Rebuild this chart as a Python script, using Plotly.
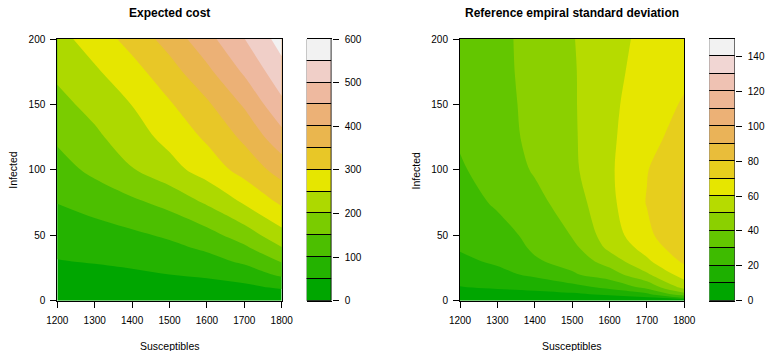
import colorsys
import plotly.graph_objects as go

# ---------------- data ----------------
susceptibles = [1200, 1300, 1400, 1500, 1600, 1700, 1800]

infected_cost = [0, 10, 20, 30, 40, 50, 75, 100, 125, 150, 175, 200]
expected_cost = [
    [3, 3, 3, 3, 3, 3, 3],
    [16, 18, 21, 25, 30, 38, 56],
    [32, 36, 42, 50, 58, 74, 109],
    [48, 53, 60, 69, 83, 108, 154],
    [60, 66, 76, 88, 107, 140, 196],
    [72, 80, 91, 107, 132, 174, 232],
    [101, 118, 140, 165, 206, 255, 308],
    [130, 162, 197, 232, 272, 318, 370],
    [158, 190, 228, 265, 308, 360, 433],
    [185, 216, 251, 295, 342, 406, 489],
    [210, 243, 282, 330, 388, 457, 532],
    [233, 273, 318, 370, 433, 499, 570],
]

infected_sd = [0, 2.5, 5, 10, 20, 30, 40, 50, 75, 100, 125, 150, 175, 200]
empirical_sd = [
    [0.3, 0.3, 0.3, 0.3, 0.3, 0.3, 0.3],
    [2.3, 3, 3.5, 4.3, 6, 9, 21.7],
    [5, 6, 7, 8.5, 11.7, 18, 36.7],
    [9.5, 11, 12.6, 16.1, 22.1, 32.2, 53],
    [14, 17.3, 21.9, 28.8, 35.1, 48.5, 64.6],
    [18, 21.4, 28.8, 33.3, 44.3, 58.2, 71.7],
    [20.7, 24, 31.4, 36.9, 52, 63.5, 77],
    [22, 26, 33, 40.5, 55, 67.5, 80],
    [25.5, 31.5, 37, 45, 57.5, 70.5, 80.8],
    [29, 34, 41, 48, 58.5, 69.5, 80],
    [31, 36, 42.5, 48.5, 58.5, 66, 75],
    [32, 36.5, 43, 48.8, 58, 65, 71],
    [33, 37, 43.5, 49, 57, 64, 68],
    [33, 37, 44, 49.5, 56, 63, 66],
]

cost_levels = [0, 50, 100, 150, 200, 250, 300, 350, 400, 450, 500, 550, 600]
cost_ticks = [0, 100, 200, 300, 400, 500, 600]
sd_levels = [0, 10, 20, 30, 40, 50, 60, 70, 80, 90, 100, 110, 120, 130, 140, 150]
sd_ticks = [0, 20, 40, 60, 80, 100, 120, 140]
x_ticks = [1200, 1300, 1400, 1500, 1600, 1700, 1800]
y_ticks = [0, 50, 100, 150, 200]


# ---------------- palette (R terrain.colors) ----------------
def terrain(n):
    k = n // 2
    def seq(a, b, m):
        return [a + (b - a) * i / (m - 1) for i in range(m)] if m > 1 else [a]
    h1, s1, v1 = seq(4 / 12, 2 / 12, k), seq(1, 1, k), seq(0.65, 0.9, k)
    m = n - k + 1
    h2, s2, v2 = seq(2 / 12, 0, m)[1:], seq(1, 0, m)[1:], seq(0.9, 0.95, m)[1:]
    out = []
    for h, s, v in zip(h1 + h2, s1 + s2, v1 + v2):
        r, g, b = colorsys.hsv_to_rgb(h, s, v)
        out.append("#%02X%02X%02X" % (round(r * 255), round(g * 255), round(b * 255)))
    return out


cost_cols = terrain(len(cost_levels) - 1)
sd_cols = terrain(len(sd_levels) - 1)

W, H = 767, 351
FONT = "Liberation Sans, Arial, Helvetica, sans-serif"


def fx(p):
    return p / W


def fy(p):
    return 1 - p / H


def stepscale(cols):
    n = len(cols) - 1
    return [[i / n, c] for i, c in enumerate(cols)]


fig = go.Figure()

step_c = cost_levels[1] - cost_levels[0]
fig.add_trace(go.Contour(
    x=susceptibles, y=infected_cost, z=expected_cost,
    contours=dict(start=cost_levels[1], end=cost_levels[-2], size=step_c,
                  coloring="fill", showlines=False),
    colorscale=stepscale(cost_cols), showscale=False, line=dict(width=0, smoothing=1),
    xaxis="x", yaxis="y", hoverinfo="skip"))

step_s = sd_levels[1] - sd_levels[0]
fig.add_trace(go.Contour(
    x=susceptibles, y=infected_sd, z=empirical_sd,
    contours=dict(start=sd_levels[1], end=sd_levels[-2], size=step_s,
                  coloring="fill", showlines=False),
    colorscale=stepscale(sd_cols), showscale=False, line=dict(width=0, smoothing=1),
    xaxis="x2", yaxis="y2", hoverinfo="skip"))

# key strips: one bar per level band
for levels, cols, xa, ya in [(cost_levels, cost_cols, "x3", "y3"), (sd_levels, sd_cols, "x4", "y4")]:
    for lo, hi, col in zip(levels[:-1], levels[1:], cols):
        fig.add_trace(go.Bar(
            x=[0], y=[hi - lo], base=[lo], width=1,
            marker=dict(color=col, line=dict(color="black", width=1)),
            xaxis=xa, yaxis=ya, showlegend=False, hoverinfo="skip"))

tickfont = dict(family=FONT, size=10, color="black")
ydom = [fy(300.7), fy(39)]

common_x = dict(range=[1200, 1800], tickvals=x_ticks, ticks="outside", ticklen=6,
                tickcolor="black", tickwidth=1, showline=True, linecolor="black",
                linewidth=1, mirror=True, showgrid=False, zeroline=False,
                tickfont=tickfont, ticklabelstandoff=4, automargin=False)
common_y = dict(range=[0, 200], tickvals=y_ticks, ticks="outside", ticklen=6,
                tickcolor="black", tickwidth=1, showline=True, linecolor="black",
                linewidth=1, mirror=True, showgrid=False, zeroline=False,
                tickfont=tickfont, ticklabelstandoff=3, automargin=False)
key_x = dict(range=[-0.5, 0.5], showticklabels=False, ticks="", showline=True,
             linecolor="black", linewidth=1, mirror=True, showgrid=False, zeroline=False,
             fixedrange=True, automargin=False)
key_y = dict(side="right", ticks="outside", ticklen=6, tickcolor="black",
             showline=False, showgrid=False, zeroline=False, tickfont=tickfont,
             ticklabelstandoff=4, automargin=False)

fig.update_layout(
    template="none",
    width=W, height=H, margin=dict(l=0, r=0, t=0, b=0, autoexpand=False),
    paper_bgcolor="white", plot_bgcolor="white", barmode="overlay", bargap=0,
    showlegend=False,
    xaxis=dict(domain=[fx(57.3), fx(281.7)], anchor="y", **common_x),
    yaxis=dict(domain=ydom, anchor="x", **common_y),
    xaxis2=dict(domain=[fx(460), fx(684.3)], anchor="y2", **common_x),
    yaxis2=dict(domain=ydom, anchor="x2", **common_y),
    xaxis3=dict(domain=[fx(306.7), fx(331.7)], anchor="y3", **key_x),
    yaxis3=dict(domain=ydom, anchor="x3", range=[cost_levels[0], cost_levels[-1]],
                tickvals=cost_ticks, **key_y),
    xaxis4=dict(domain=[fx(709.3), fx(734.8)], anchor="y4", **key_x),
    yaxis4=dict(domain=ydom, anchor="x4", range=[sd_levels[0], sd_levels[-1]],
                tickvals=sd_ticks, **key_y),
)

ann = []
for cx, title in [(169.5, "Expected cost"), (572.0, "Reference empiral standard deviation")]:
    ann.append(dict(text="<b>%s</b>" % title, x=fx(cx), y=fy(13), xref="paper", yref="paper",
                    showarrow=False, xanchor="center", yanchor="middle",
                    font=dict(family=FONT, size=12, color="black")))
for cx in [169.5, 572.2]:
    ann.append(dict(text="Susceptibles", x=fx(cx), y=fy(345.5), xref="paper", yref="paper",
                    showarrow=False, xanchor="center", yanchor="middle",
                    font=dict(family=FONT, size=10.5, color="black")))
for cx in [12.8, 415.5]:
    ann.append(dict(text="Infected", x=fx(cx), y=fy(169.9), xref="paper", yref="paper",
                    showarrow=False, xanchor="center", yanchor="middle", textangle=-90,
                    font=dict(family=FONT, size=10.5, color="black")))
fig.update_layout(annotations=ann)

fig.write_html("out.html")
